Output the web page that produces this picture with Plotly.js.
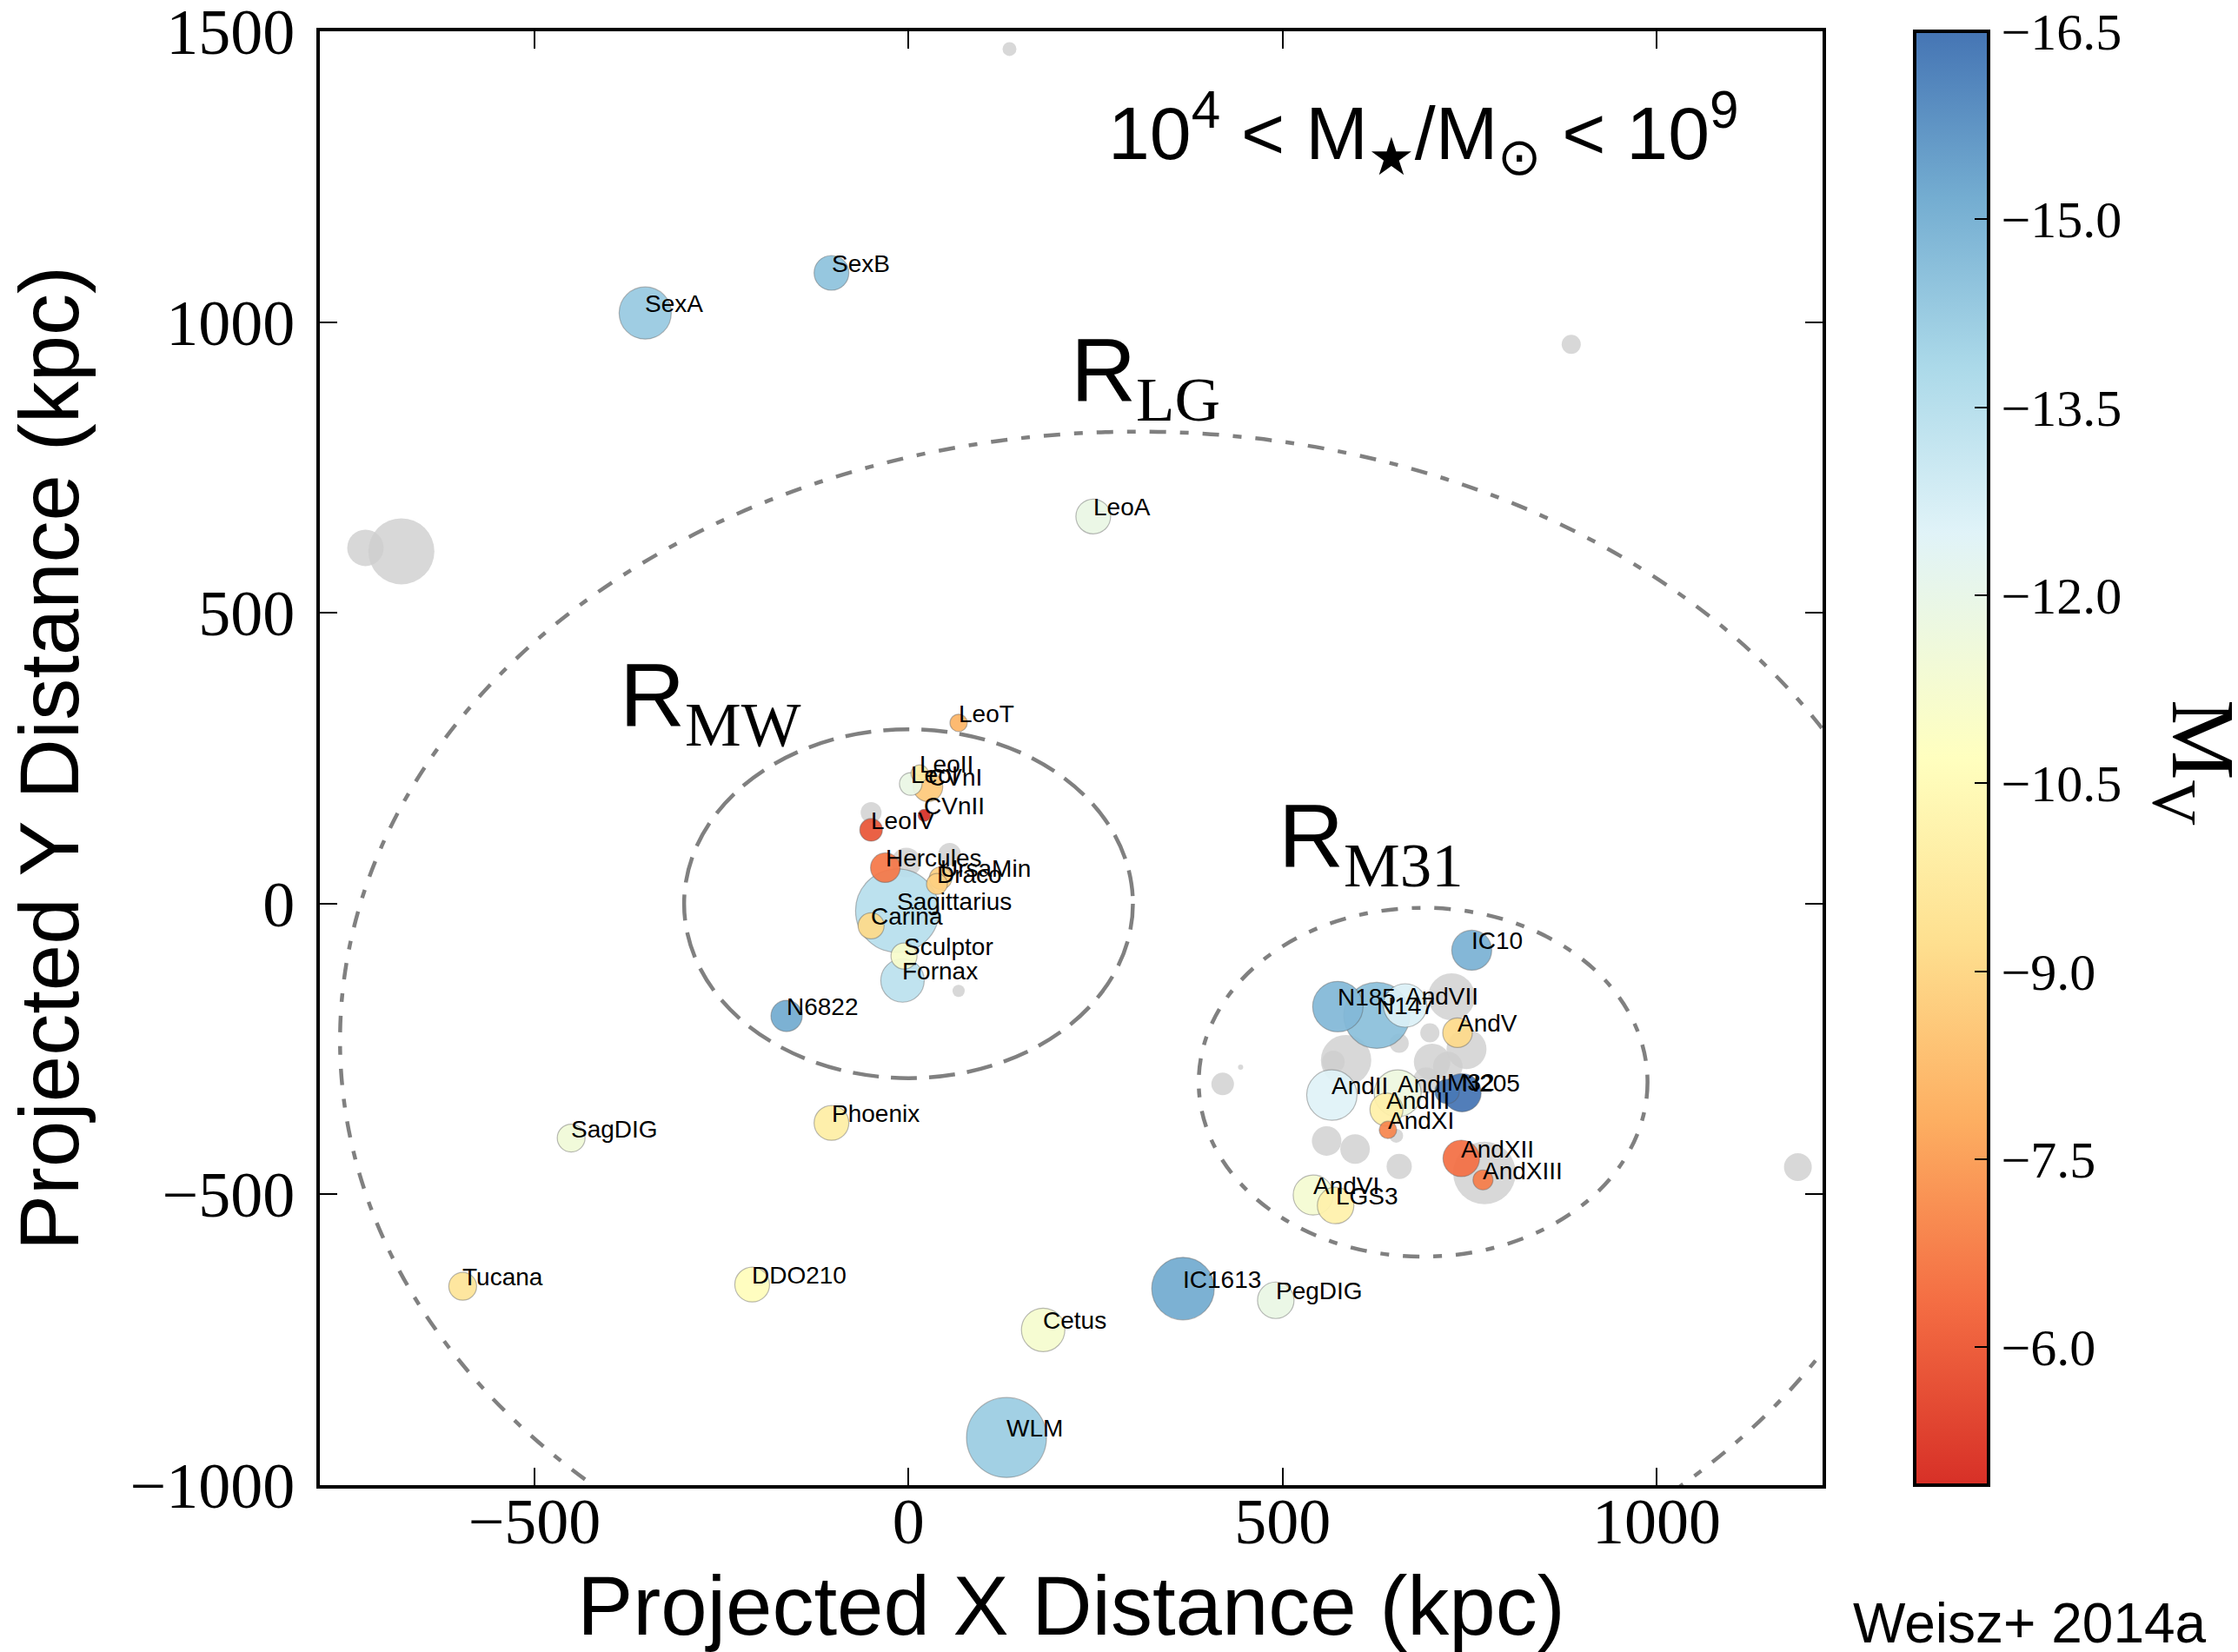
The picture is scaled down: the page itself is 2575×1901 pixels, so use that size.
<!DOCTYPE html>
<html><head><meta charset="utf-8">
<script src="https://cdn.plot.ly/plotly-3.0.1.min.js"></script>
<style>html,body{margin:0;padding:0;background:#fff}#chart{width:2575px;height:1901px}</style>
</head><body><div id="chart"></div>
<script>
// Galaxies inside the stellar-mass window (coloured by M_V)
const names = ['SexA','SexB','LeoA','LeoT','LeoII','LeoI','CVnI','CVnII','LeoIV','Hercules','UrsaMin','Draco','Sagittarius','Carina','Sculptor','Fornax','N6822','SagDIG','Phoenix','Tucana','DDO210','Cetus','IC1613','PegDIG','WLM','IC10','N185','N147','AndVII','AndV','AndII','AndI','AndIII','M32','N205','AndXI','AndXII','AndXIII','AndVI','LGS3'];
const xKpc = [-352,-103,247,67,15,3,26,21,-50,-31,43,38,-15,-50,-6,-8,-163,-451,-103,-596,-209,180,367,491,131,753,574,626,664,734,566,654,639,720,740,641,739,768,541,571];
const yKpc = [1016,1085,666,311,224,206,201,152,127,62,44,34,-12,-38,-90,-132,-193,-403,-377,-658,-655,-733,-662,-682,-918,-80,-177,-192,-175,-222,-329,-326,-354,-323,-325,-389,-438,-475,-501,-519];
const mv = [-14.3,-14.5,-11.9,-8.0,-9.8,-11.9,-8.6,-4.9,-5.8,-6.6,-8.8,-8.8,-13.5,-9.1,-11.1,-13.4,-15.2,-11.5,-9.9,-9.5,-10.6,-11.2,-15.2,-11.9,-14.2,-15.0,-14.8,-14.6,-12.6,-9.1,-12.5,-11.7,-10.0,-16.4,-16.5,-6.9,-6.4,-6.7,-11.3,-10.1];
// relative bubble size
const bubble = [30,20,20,10,10,13,17,7,13,17,13,12,48,15,15,25,18,16,20,16,20,25,36,21,46,23,29,38,25,17,29,27,19,14,22,10,21,11.5,23,21];

// Galaxies outside the mass window (grey, unlabelled)
const greyX = [135,886,-726,-678,420,444,1189,726,697,746,656,585,568,700,721,692,559,597,656,770,652,-50,-3,55,67];
const greyY = [1470,962,612,606,-310,-281,-453,-160,-222,-250,-240,-269,-272,-272,-280,-304,-408,-422,-452,-463,-399,157,71,85,-150];
const greyBubble = [8,11,21,38,13,3,16,27,11,23,11,29,13,21,17,15,17,17,14.5,36,8,12,17,13,7];

// Characteristic radii (kpc)
const regionSub = ['MW','M31','LG'];
const regionCx = [0,688,306];
const regionCy = [0,-307,-235];
const regionRx = [300,300,1066];
const regionRy = [300,300,1047];
const regionLabelX = [-389,492,215];
const regionLabelY = [245,3,804];

const cbTicks = [-6.0,-7.5,-9.0,-10.5,-12.0,-13.5,-15.0,-16.5];
const xTicks = [-500,0,500,1000];
const yTicks = [-1000,-500,0,500,1000,1500];

const rdylbuColors = ['#d73027','#f46d43','#fdae61','#fee090','#ffffbf','#e0f3f8','#abd9e9','#74add1','#4575b4'];
const rdylbuStops  = [0,0.125,0.25,0.375,0.5,0.655,0.77,0.885,1];
const colorscale = rdylbuColors.map((c,i)=>[rdylbuStops[i], c]);

const order = names.map((_,i)=>i).sort((a,b)=>bubble[b]-bubble[a]);
const pick = arr => order.map(i=>arr[i]);

const greyTrace = {
  type:'scatter', mode:'markers', x:greyX, y:greyY, hoverinfo:'skip', showlegend:false,
  marker:{size:greyBubble, sizemode:'diameter', sizeref:0.5, color:'rgb(206,206,206)', opacity:0.8, line:{width:0}}
};
const galTrace = {
  type:'scatter', mode:'markers', x:pick(xKpc), y:pick(yKpc), text:pick(names), showlegend:false,
  marker:{size:pick(bubble), sizemode:'diameter', sizeref:0.5,
    color:pick(mv).map(v=>-v), cmin:4.9, cmax:16.5, colorscale:colorscale, opacity:0.93,
    line:{width:1.2, color:'rgba(90,90,90,0.45)'},
    showscale:true,
    colorbar:{x:1.0613, xanchor:'left', xpad:0, ypad:0, y:0.5, yanchor:'middle', len:1, lenmode:'fraction',
      thickness:85, thicknessmode:'pixels', outlinewidth:4, outlinecolor:'black',
      tickmode:'array', tickvals:cbTicks.map(v=>-v), ticktext:cbTicks.map(v=>'\u2212'+Math.abs(v).toFixed(1)),
      ticks:'inside', ticklen:18, tickwidth:2, tickcolor:'black',
      tickfont:{family:'Liberation Serif', size:60, color:'black'}}
  }
};

const shapes = regionSub.map((s,i)=>({
  type:'circle', xref:'x', yref:'y', layer:'above',
  x0:regionCx[i]-regionRx[i], x1:regionCx[i]+regionRx[i],
  y0:regionCy[i]-regionRy[i], y1:regionCy[i]+regionRy[i],
  line:{color:'rgb(128,128,128)', width:4.5, dash: s==='MW' ? '30px,14px' : '19px,16px,10px,16px'}
}));

const annotations = names.map((n,i)=>({
  x:xKpc[i], y:yKpc[i], xref:'x', yref:'y', text:n, showarrow:false,
  xanchor:'left', yanchor:'bottom', yshift:-7, xshift:-2,
  font:{family:'Liberation Sans', size:28, color:'black'}
}));
regionSub.forEach((s,i)=>annotations.push({
  x:regionLabelX[i], y:regionLabelY[i], xref:'x', yref:'y', showarrow:false,
  xanchor:'left', yanchor:'bottom',
  text:'R<sub><span style="font-family:Liberation Serif">'+s+'</span></sub>',
  font:{family:'Liberation Sans', size:104, color:'black'}
}));
annotations.push({
  xref:'paper', yref:'paper', x:0.7345, y:0.93, xanchor:'center', yanchor:'middle', showarrow:false,
  text:'10<sup>4</sup> &lt; M<sub>\u2605</sub>/M<sub>\u2299</sub> &lt; 10<sup>9</sup>',
  font:{family:'Liberation Sans', size:86, color:'black'}
});
annotations.push({
  xref:'paper', yref:'paper', x:1.249, y:0.497, xanchor:'center', yanchor:'middle', showarrow:false, textangle:90,
  text:'M<sub>V</sub>', font:{family:'Liberation Serif', size:104, color:'black'}
});
annotations.push({
  xref:'paper', yref:'paper', x:1.257, y:-0.095, xanchor:'right', yanchor:'middle', showarrow:false,
  text:'Weisz+ 2014a', font:{family:'Liberation Sans', size:64, color:'black'}
});

const axisCommon = {
  showgrid:false, zeroline:false, showline:true, linewidth:4, linecolor:'black', mirror:'ticks',
  ticks:'inside', ticklen:20, tickwidth:2, tickcolor:'black', ticklabeloverflow:'allow',
  tickfont:{family:'Liberation Serif', size:74, color:'black'}, automargin:false
};
const layout = {
  width:2575, height:1901, paper_bgcolor:'white', plot_bgcolor:'white',
  margin:{l:368, r:478, t:36, b:192, pad:0},
  font:{family:'Liberation Sans', color:'black'},
  xaxis:Object.assign({}, axisCommon, {range:[-787,1222], tickmode:'array', tickvals:xTicks, ticklabelstandoff:-26,
    title:{text:'Projected X Distance (kpc)', font:{family:'Liberation Sans', size:96, color:'black'}, standoff:42}}),
  yaxis:Object.assign({}, axisCommon, {range:[-1000,1500.5], tickmode:'array', tickvals:yTicks, ticklabelstandoff:10,
    title:{text:'Projected Y Distance (kpc)', font:{family:'Liberation Sans', size:96, color:'black'}, standoff:28}}),
  shapes:shapes, annotations:annotations, hovermode:false
};
Plotly.newPlot('chart', [greyTrace, galTrace], layout, {displayModeBar:false, staticPlot:true});
</script></body></html>
